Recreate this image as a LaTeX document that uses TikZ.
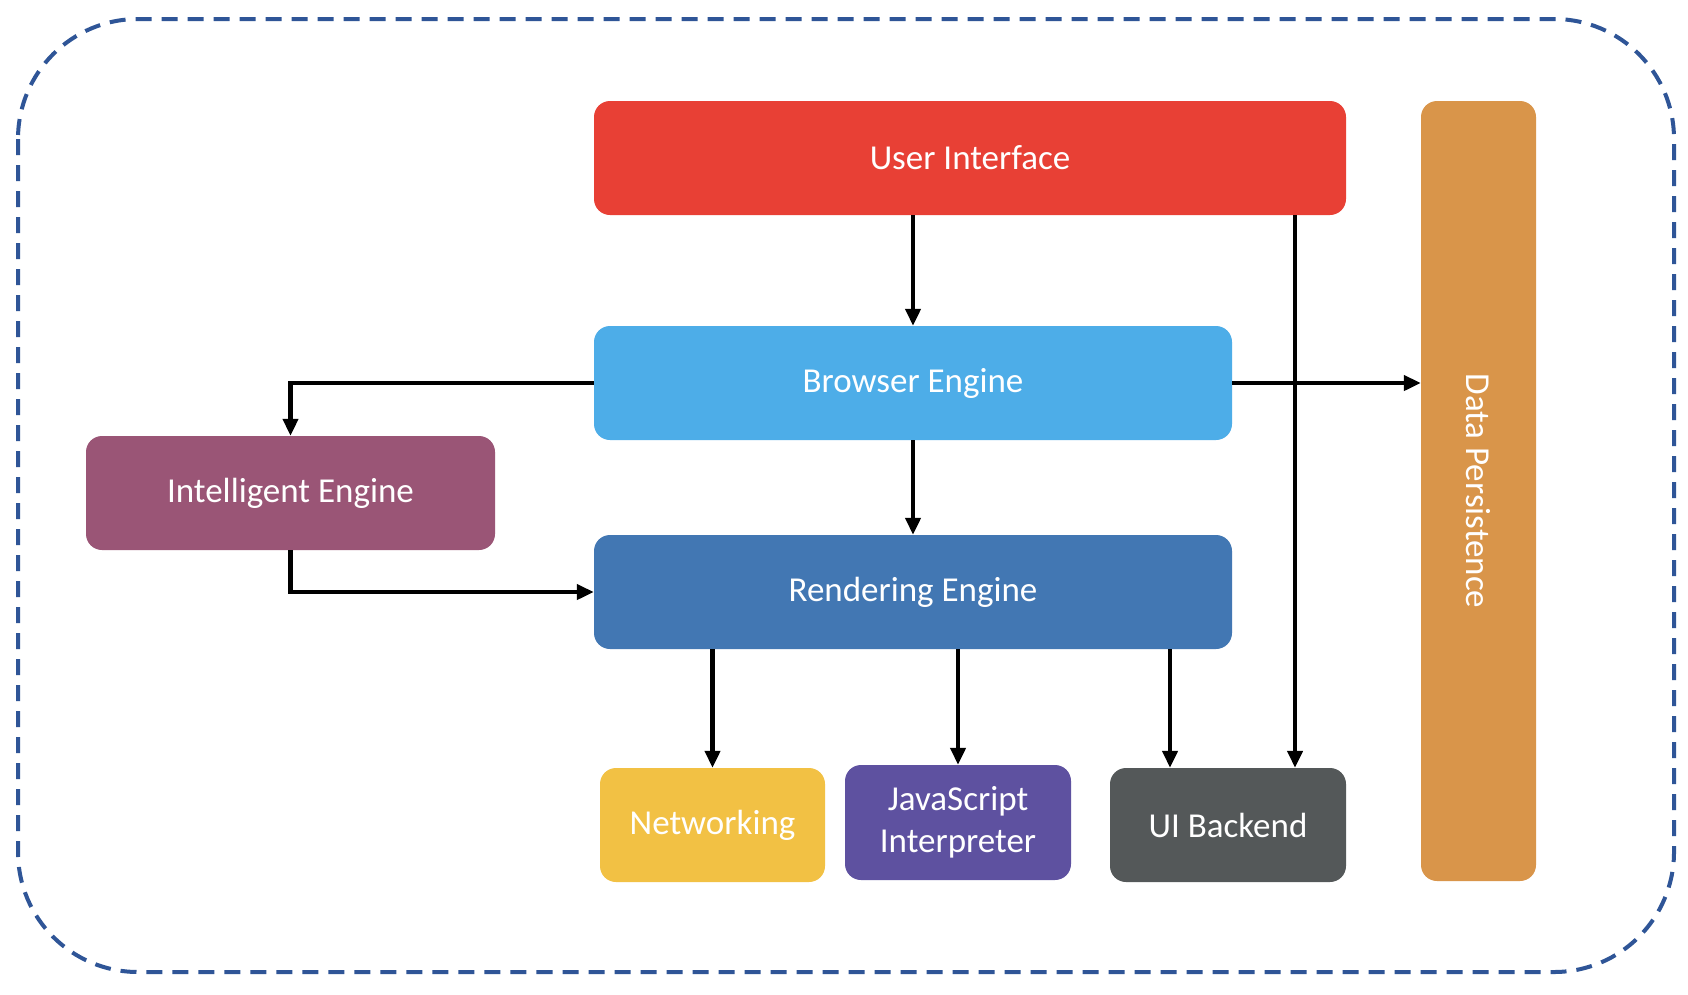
\documentclass[tikz,border=0pt]{standalone}
\usepackage{fontspec}
\setmainfont{Carlito}
\usetikzlibrary{arrows.meta}
\definecolor{cUI}{HTML}{E84035}
\definecolor{cBE}{HTML}{4DADE8}
\definecolor{cRE}{HTML}{4277B3}
\definecolor{cIE}{HTML}{9A5576}
\definecolor{cNW}{HTML}{F2C144}
\definecolor{cJS}{HTML}{5E51A0}
\definecolor{cUB}{HTML}{545859}
\definecolor{cDP}{HTML}{D9954A}
\definecolor{cBorder}{HTML}{2F5597}
\tikzset{
  box/.style={rectangle, rounded corners=16pt, draw=none, text=white, inner sep=0pt,
    font=\fontsize{35}{42}\selectfont, align=center},
  arr/.style={line width=4.5pt, -{Triangle[length=17pt,width=15pt]}},
}
\begin{document}
\begin{tikzpicture}[x=1pt,y=-1pt]
\useasboundingbox (0,0) rectangle (1688,994);
\fill[white] (0,0) rectangle (1688,994);
\draw[cBorder, line width=4pt, dash pattern=on 16pt off 10pt, rounded corners=120pt] (18,19) rectangle (1674,972);

\node[box, fill=cUI, minimum width=752pt, minimum height=114pt] (UI) at (970,158) {User Interface};
\node[box, fill=cBE, minimum width=638pt, minimum height=114pt] (BE) at (913,383) {Browser Engine};
\node[box, fill=cRE, minimum width=638pt, minimum height=114pt] (RE) at (913,592) {Rendering Engine};
\node[box, fill=cIE, minimum width=409pt, minimum height=114pt] (IE) at (290.5,493) {Intelligent Engine};
\node[box, fill=cNW, minimum width=225pt, minimum height=114pt] (NW) at (712.5,825) {Networking};
\node[box, fill=cJS, minimum width=226pt, minimum height=115pt] (JS) at (958,822.5) {JavaScript\\Interpreter};
\node[box, fill=cUB, minimum width=236pt, minimum height=114pt] (UB) at (1228,825) {UI Backend};
\node[box, fill=cDP, minimum width=115pt, minimum height=780pt] (DP) at (1478.5,491) {};
\node[text=white, font=\fontsize{35}{42}\selectfont, rotate=-90] (DPt) at (DP.center) {Data Persistence};

\coordinate (xUB) at (1295,0);
\coordinate (xRU) at (1170,0);

\draw[arr] (BE.north |- UI.south) -- (BE.north);
\draw[arr] (xUB |- UI.south) -- (xUB |- UB.north);
\draw[arr] (BE.east) -- (DP.west |- BE.east);
\draw[arr] (BE.west) -| (IE.north);
\draw[arr] (IE.south) |- (RE.west);
\draw[arr] (BE.south) -- (RE.north);
\draw[arr] (NW.north |- RE.south) -- (NW.north);
\draw[arr] (JS.north |- RE.south) -- (JS.north);
\draw[arr] (xRU |- RE.south) -- (xRU |- UB.north);
\end{tikzpicture}
\end{document}
